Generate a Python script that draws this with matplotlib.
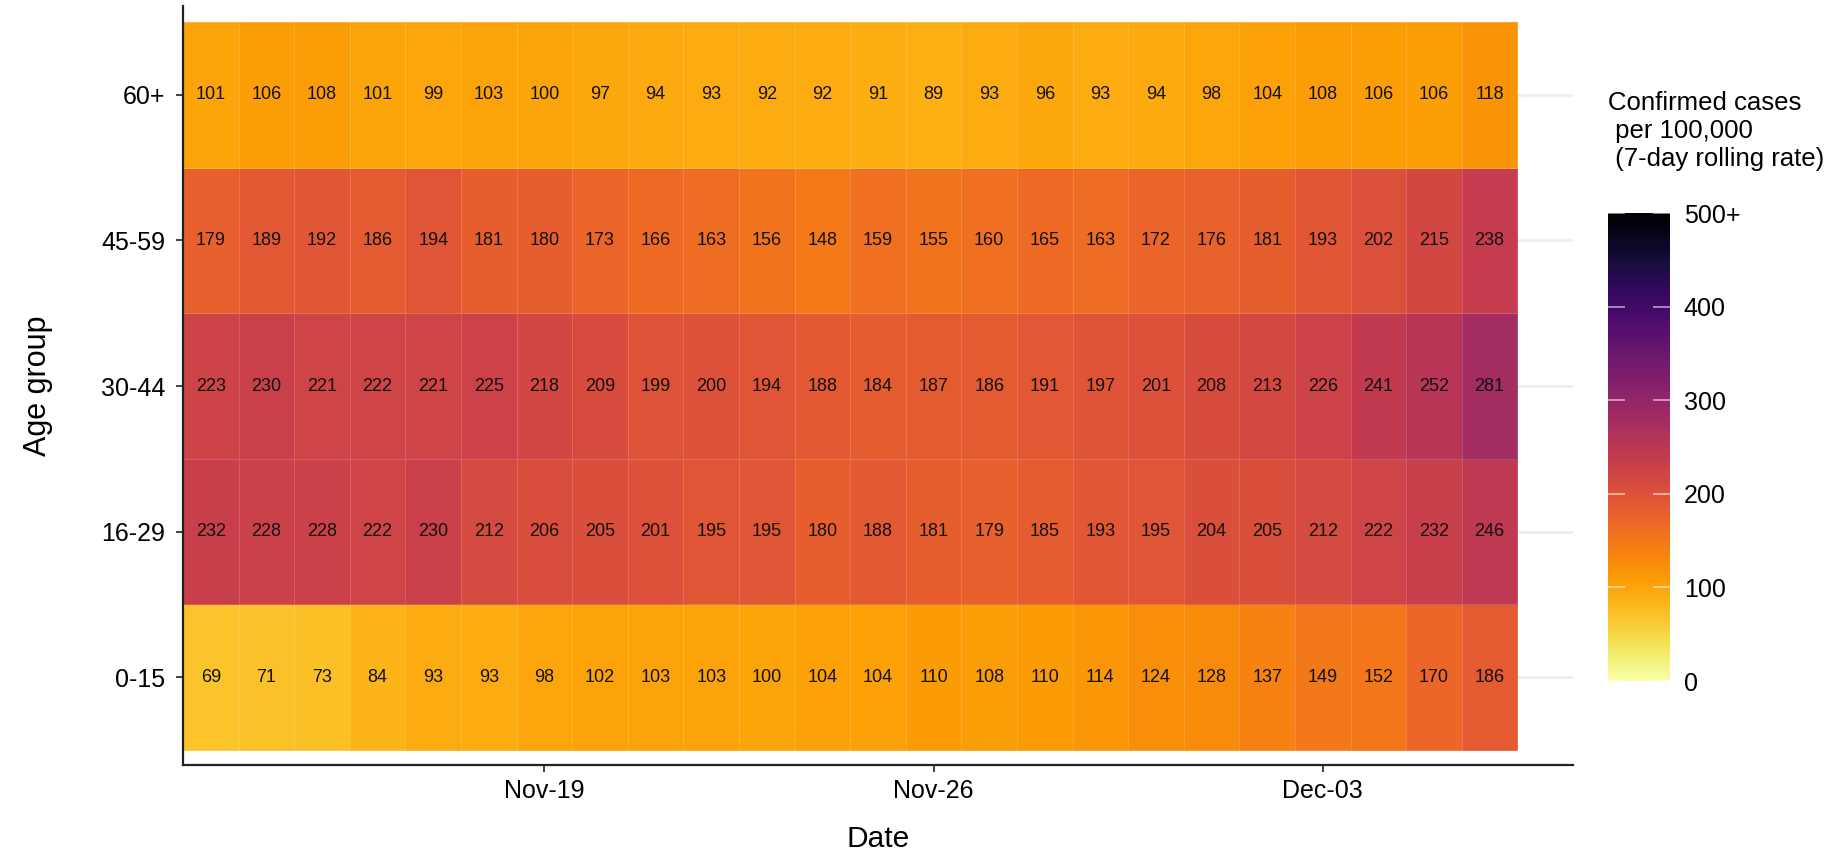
import datetime as dt
import numpy as np
import matplotlib
matplotlib.use("Agg")
import matplotlib.pyplot as plt
import matplotlib.dates as mdates
from matplotlib.colors import Normalize

plt.rcParams['font.family'] = ['Liberation Sans', 'DejaVu Sans']

# data
age_groups = ["0-15", "16-29", "30-44", "45-59", "60+"]
start_date = dt.date(2020, 11, 13)
n_days = 24
dates = [start_date + dt.timedelta(days=i) for i in range(n_days)]

rate_0_15 = [69, 71, 73, 84, 93, 93, 98, 102, 103, 103, 100, 104, 104, 110,
             108, 110, 114, 124, 128, 137, 149, 152, 170, 186]
rate_16_29 = [232, 228, 228, 222, 230, 212, 206, 205, 201, 195, 195, 180, 188, 181,
              179, 185, 193, 195, 204, 205, 212, 222, 232, 246]
rate_30_44 = [223, 230, 221, 222, 221, 225, 218, 209, 199, 200, 194, 188, 184, 187,
              186, 191, 197, 201, 208, 213, 226, 241, 252, 281]
rate_45_59 = [179, 189, 192, 186, 194, 181, 180, 173, 166, 163, 156, 148, 159, 155,
              160, 165, 163, 172, 176, 181, 193, 202, 215, 238]
rate_60 = [101, 106, 108, 101, 99, 103, 100, 97, 94, 93, 92, 92, 91, 89,
           93, 96, 93, 94, 98, 104, 108, 106, 106, 118]

x_ticks = [dt.date(2020, 11, 19), dt.date(2020, 11, 26), dt.date(2020, 12, 3)]
x_tick_labels = ["Nov-19", "Nov-26", "Dec-03"]
cbar_ticks = [0, 100, 200, 300, 400, 500]
cbar_labels = ["0", "100", "200", "300", "400", "500+"]

Z = np.array([rate_0_15, rate_16_29, rate_30_44, rate_45_59, rate_60])

# plot
fig = plt.figure(figsize=(18.31, 8.51), dpi=100)
ax = fig.add_axes([0.09995, 0.10106, 0.8591 - 0.09995, 0.99295 - 0.10106])

day0 = mdates.date2num(start_date)
x_edges = day0 - 0.5 + np.arange(n_days + 1)
y_edges = np.arange(len(age_groups) + 1) + 0.5
norm = Normalize(vmin=0, vmax=500)
mesh = ax.pcolormesh(x_edges, y_edges, Z, cmap='inferno_r', norm=norm,
                     edgecolors=(1, 1, 1, 0.16), linewidth=0.6, zorder=2)

# cell labels
for r in range(Z.shape[0]):
    for c in range(Z.shape[1]):
        ax.text(day0 + c, r + 1, str(Z[r, c]), ha='center', va='center',
                fontsize=13, color='#111111', zorder=3)

ax.set_xlim(day0 - 0.5, day0 + n_days + 0.5)
ax.set_ylim(0.397, 5.61)
ax.set_yticks(range(1, len(age_groups) + 1))
ax.set_yticklabels(age_groups)
ax.set_xticks([mdates.date2num(d) for d in x_ticks])
ax.set_xticklabels(x_tick_labels)

ax.set_axisbelow(True)
ax.grid(axis='y', color='#ECEEE2', linewidth=1.8)
ax.grid(axis='x', visible=False)
for s in ['top', 'right']:
    ax.spines[s].set_visible(False)
for s in ['left', 'bottom']:
    ax.spines[s].set_linewidth(1.6)
    ax.spines[s].set_color('#222222')
ax.tick_params(axis='both', labelsize=18, length=5, width=1.2, color='#222222')
ax.tick_params(axis='y', pad=8)
ax.tick_params(axis='x', pad=5)

ax.set_xlabel("Date", fontsize=21.5, labelpad=16)
ax.set_ylabel("Age group", fontsize=22, labelpad=34)

# colourbar
cax = fig.add_axes([0.8782, 0.19976, 0.03386, 0.5499])
cb = fig.colorbar(mesh, cax=cax, ticks=cbar_ticks)
cb.outline.set_visible(False)
cb.ax.set_yticklabels(cbar_labels)
cb.ax.tick_params(direction='in', length=12, width=1.2, colors='black',
                  color=(1, 1, 1, 0.6), labelsize=18, pad=10, left=True)
fig.text(0.8782, 1 - 91 / 851, "Confirmed cases\n per 100,000\n (7-day rolling rate)",
         fontsize=18.5, ha='left', va='top', linespacing=1.2)

fig.savefig("out.png", dpi=100)
